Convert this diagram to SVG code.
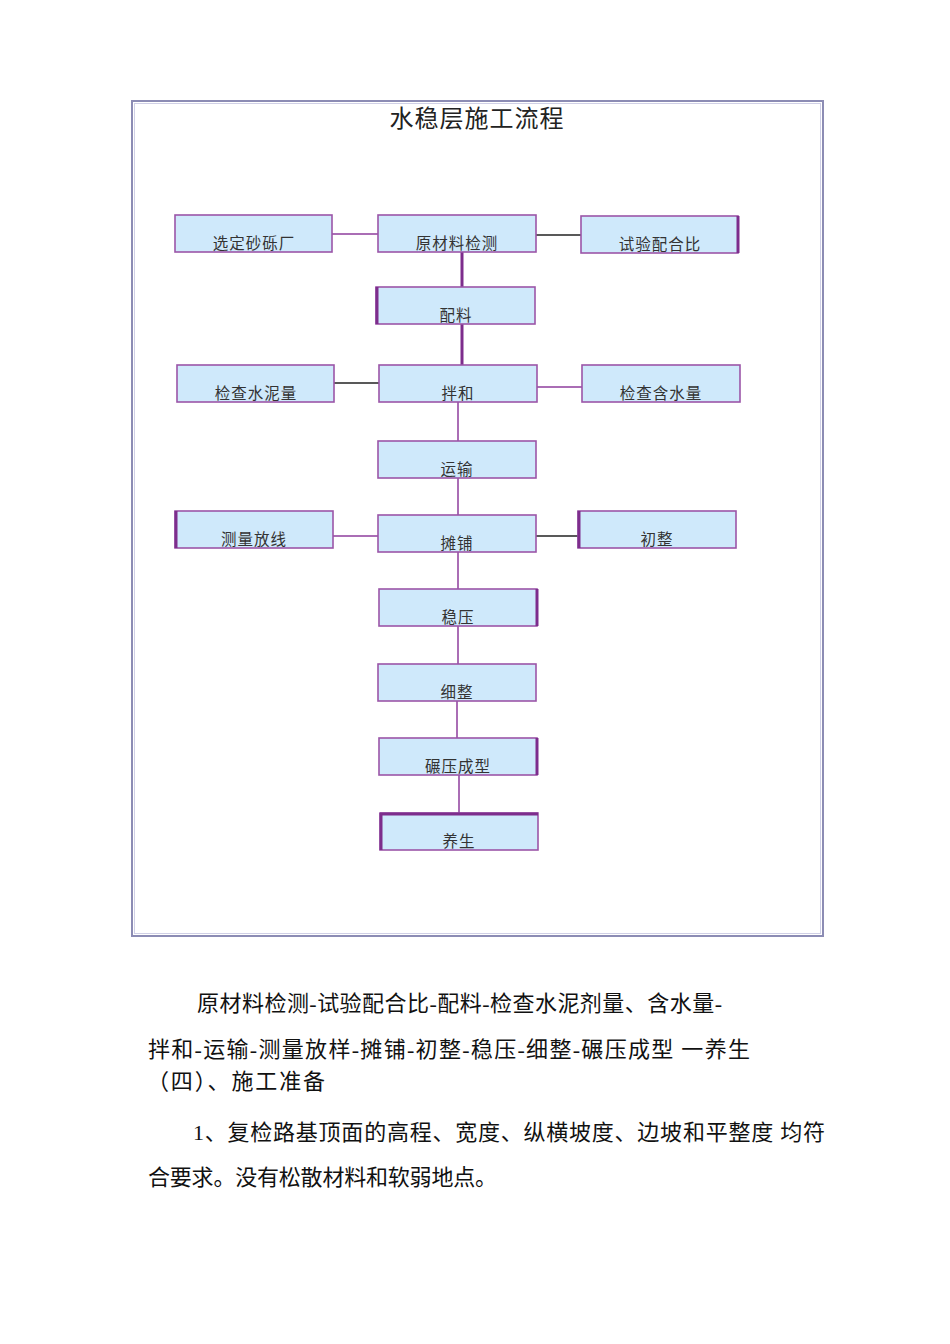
<svg xmlns="http://www.w3.org/2000/svg" width="950" height="1344" viewBox="0 0 950 1344">
<style>
.box{fill:#cfe9fb;stroke:#9b55a8;stroke-width:1.6}
.thk{stroke:#7d2d8c;stroke-width:3;fill:none}
.lbl{font-family:"Liberation Sans","Noto Sans CJK SC",sans-serif;font-size:15.5px;fill:#333;text-anchor:middle;letter-spacing:1px}
.cp{stroke:#8e3c9c;stroke-width:1.5;fill:none}
.cpt{stroke:#7d2d8c;stroke-width:3;fill:none}
.ck{stroke:#222;stroke-width:1.5;fill:none}
.para{font-family:"Liberation Serif","Noto Sans CJK SC",serif;font-size:22px;fill:#111}
</style>
<rect width="950" height="1344" fill="#fff"/>
<g id="frame">
<rect x="132" y="101" width="691" height="835" fill="none" stroke="#8c8cb4" stroke-width="2"/>
<rect x="134.5" y="103.5" width="686" height="830" fill="none" stroke="#d0d0e6" stroke-width="1"/>
<text x="477" y="127" font-family="Liberation Sans,'Noto Sans CJK SC',sans-serif" font-size="24" fill="#222" text-anchor="middle" letter-spacing="1">水稳层施工流程</text>
</g>
<g id="connectors">
<line class="cp" x1="332" y1="234" x2="378" y2="234"/>
<line class="ck" x1="536" y1="235" x2="581" y2="235"/>
<line class="cpt" x1="462" y1="252" x2="462" y2="287"/>
<line class="cpt" x1="462" y1="324" x2="462" y2="365"/>
<line class="ck" x1="334" y1="383" x2="379" y2="383"/>
<line class="cp" x1="537" y1="387" x2="582" y2="387"/>
<line class="cp" x1="458" y1="402" x2="458" y2="441"/>
<line class="cp" x1="458" y1="478" x2="458" y2="515"/>
<line class="cp" x1="333" y1="536" x2="378" y2="536"/>
<line class="ck" x1="536" y1="536" x2="578" y2="536"/>
<line class="cp" x1="458" y1="552" x2="458" y2="589"/>
<line class="cp" x1="458" y1="626" x2="458" y2="664"/>
<line class="cp" x1="457" y1="701" x2="457" y2="738"/>
<line class="cp" x1="459" y1="775" x2="459" y2="813"/>
</g>
<g id="n1"><rect class="box" x="175" y="215" width="157" height="37"/><text class="lbl" x="254" y="249">选定砂砾厂</text></g>
<g id="n2"><rect class="box" x="378" y="215" width="158" height="37"/><text class="lbl" x="457" y="249">原材料检测</text></g>
<g id="n3"><rect class="box" x="581" y="216" width="157" height="37"/><line class="thk" x1="738" y1="216" x2="738" y2="253"/><text class="lbl" x="660" y="250">试验配合比</text></g>
<g id="n4"><rect class="box" x="376" y="287" width="159" height="37"/><line class="thk" x1="377" y1="287" x2="377" y2="324"/><text class="lbl" x="456" y="321">配料</text></g>
<g id="n5"><rect class="box" x="177" y="365" width="157" height="37"/><text class="lbl" x="256" y="399">检查水泥量</text></g>
<g id="n6"><rect class="box" x="379" y="365" width="158" height="37"/><text class="lbl" x="458" y="399">拌和</text></g>
<g id="n7"><rect class="box" x="582" y="365" width="158" height="37"/><text class="lbl" x="661" y="399">检查含水量</text></g>
<g id="n8"><rect class="box" x="378" y="441" width="158" height="37"/><text class="lbl" x="457" y="475">运输</text></g>
<g id="n9"><rect class="box" x="175" y="511" width="158" height="37"/><line class="thk" x1="176" y1="511" x2="176" y2="548"/><text class="lbl" x="254" y="545">测量放线</text></g>
<g id="n10"><rect class="box" x="378" y="515" width="158" height="37"/><text class="lbl" x="457" y="549">摊铺</text></g>
<g id="n11"><rect class="box" x="578" y="511" width="158" height="37"/><line class="thk" x1="579" y1="511" x2="579" y2="548"/><text class="lbl" x="657" y="545">初整</text></g>
<g id="n12"><rect class="box" x="379" y="589" width="158" height="37"/><line class="thk" x1="537" y1="589" x2="537" y2="626"/><text class="lbl" x="458" y="623">稳压</text></g>
<g id="n13"><rect class="box" x="378" y="664" width="158" height="37"/><text class="lbl" x="457" y="698">细整</text></g>
<g id="n14"><rect class="box" x="379" y="738" width="158" height="37"/><line class="thk" x1="537" y1="738" x2="537" y2="775"/><text class="lbl" x="458" y="772">碾压成型</text></g>
<g id="n15"><rect class="box" x="380" y="813" width="158" height="37"/><line class="thk" x1="380" y1="814" x2="538" y2="814"/><line class="thk" x1="381" y1="813" x2="381" y2="850"/><text class="lbl" x="459" y="847">养生</text></g>
<g id="text">
<text class="para" x="197" y="1011" textLength="525" lengthAdjust="spacing">原材料检测-试验配合比-配料-检查水泥剂量、含水量-</text>
<text class="para" x="148" y="1057" textLength="602" lengthAdjust="spacing">拌和-运输-测量放样-摊铺-初整-稳压-细整-碾压成型 一养生</text>
<text class="para" x="147" y="1089" textLength="178" lengthAdjust="spacing">（四）、施工准备</text>
<text class="para" x="193" y="1140" textLength="632" lengthAdjust="spacing">1、复检路基顶面的高程、宽度、纵横坡度、边坡和平整度 均符</text>
<text class="para" x="148" y="1185" textLength="349" lengthAdjust="spacing">合要求。没有松散材料和软弱地点。</text>
</g>
</svg>
